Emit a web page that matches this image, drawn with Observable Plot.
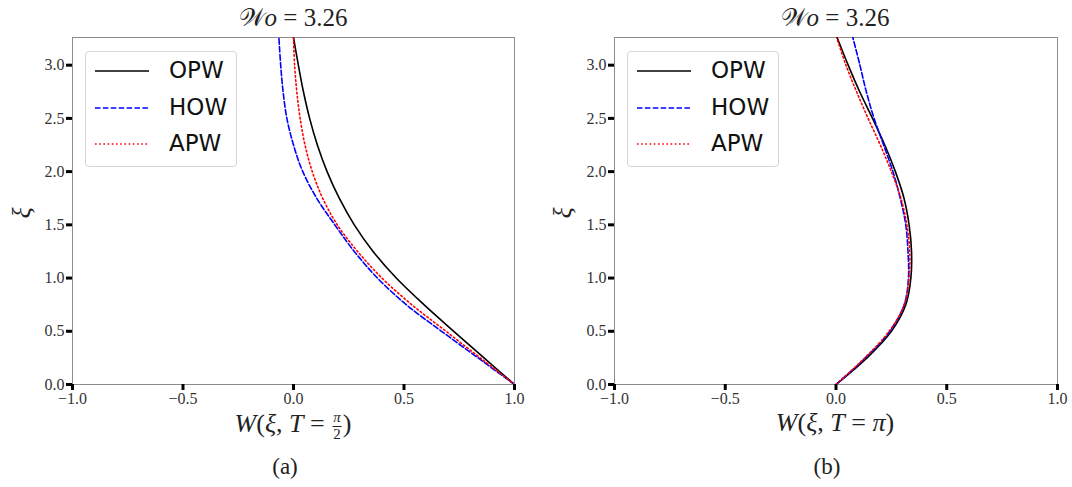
<!DOCTYPE html>
<html><head><meta charset="utf-8">
<script src="https://cdn.jsdelivr.net/npm/d3@7"></script>
<script src="https://cdn.jsdelivr.net/npm/@observablehq/plot@0.6"></script>
<style>
body{margin:0;background:#fff;}
#root{position:relative;width:1072px;height:487px;overflow:hidden;font-family:"Liberation Serif",serif;color:#222;background:#fff;}
.panel{position:absolute;top:0;}
.panel svg{overflow:visible;}
.title{position:absolute;top:4px;font-size:25px;transform:translateX(-50%);white-space:nowrap;}
.xlab{position:absolute;top:410px;font-size:26px;transform:translateX(-50%);white-space:nowrap;line-height:1;}
.cap{position:absolute;top:454px;font-size:23px;transform:translateX(-50%);white-space:nowrap;}
.ylab{position:absolute;top:213px;font-size:26px;font-style:italic;transform:translate(-50%,-50%) rotate(-90deg);}
.frac{display:inline-block;vertical-align:middle;text-align:center;font-size:15px;line-height:1.05;margin:0 1px;}
.frac .n{display:block;border-bottom:1px solid #222;padding:0 1px;font-style:italic;}
.frac .d{display:block;}
.legend{position:absolute;border:1px solid #d6d6d6;border-radius:4px;background:rgba(255,255,255,0.8);font-family:"DejaVu Sans",sans-serif;font-size:23px;color:#111;}
.legend .row{position:absolute;left:0;height:24px;}
.legend svg{position:absolute;left:9px;top:0;}
.legend .t{position:absolute;left:83px;top:-1px;line-height:24px;}
</style></head><body><div id="root"></div><script>
// ξ sample positions (shared by all series)
const xi = [0, 0.25, 0.5, 0.75, 1.0, 1.25, 1.5, 1.75, 2.0, 2.25, 2.5, 2.75, 3.0, 3.26];
// Panel (a): W(ξ, T = π/2)
const opwA = [1.0, 0.862, 0.725, 0.59, 0.465, 0.36, 0.275, 0.207, 0.152, 0.108, 0.073, 0.045, 0.022, 0.0];
const howA = [1.0, 0.835, 0.67, 0.51, 0.38, 0.275, 0.187, 0.105, 0.042, 0.0, -0.03, -0.047, -0.058, -0.066];
const apwA = [1.0, 0.845, 0.69, 0.535, 0.40, 0.29, 0.198, 0.132, 0.085, 0.052, 0.03, 0.015, 0.005, 0.0];
// Panel (b): W(ξ, T = π)
const opwB = [0, 0.14, 0.25, 0.315, 0.338, 0.341, 0.33, 0.307, 0.268, 0.22, 0.165, 0.107, 0.055, 0.005];
const howB = [0, 0.132, 0.243, 0.308, 0.327, 0.325, 0.315, 0.29, 0.257, 0.215, 0.172, 0.137, 0.108, 0.076];
const apwB = [0, 0.13, 0.24, 0.308, 0.33, 0.333, 0.32, 0.293, 0.25, 0.2, 0.145, 0.093, 0.045, 0.003];
const seriesNames = ["OPW", "HOW", "APW"];
const seriesColors = ["black", "blue", "red"];
const seriesDash = [null, "5.5,2.4", "1.6,2.6"];
const xTicks = [-1, -0.5, 0, 0.5, 1];
const yTicks = [0, 0.5, 1.0, 1.5, 2.0, 2.5, 3.0];
const titleHTML = "𝒲<i>o</i> = 3.26";

const root = document.getElementById("root");

function makePanel(series, left, width, mL, mR) {
  const rows = xi.map((v, i) => ({xi: v, OPW: series[0][i], HOW: series[1][i], APW: series[2][i]}));
  const lines = seriesNames.map((name, k) => Plot.line(rows, {
    x: name, y: "xi", stroke: seriesColors[k], strokeWidth: 1.6,
    strokeDasharray: seriesDash[k] || undefined, curve: "catmull-rom", clip: true
  }));
  const plot = Plot.plot({
    width, height: 420, marginLeft: mL, marginRight: mR, marginTop: 37, marginBottom: 36,
    x: {domain: [-1, 1]}, y: {domain: [0, 3.26]},
    style: {fontFamily: "'Liberation Serif', serif", fontSize: "16px", color: "#333", background: "transparent", overflow: "visible"},
    marks: [
      Plot.frame({stroke: "#8c8c8c", strokeWidth: 1}),
      ...lines,
      Plot.axisX({ticks: xTicks, tickFormat: d3.format(".1f"), tickSize: 6, tickPadding: 2, stroke: "black", strokeWidth: 3, fill: "#333", label: null}),
      Plot.axisY({ticks: yTicks, tickFormat: d3.format(".1f"), tickSize: 6, tickPadding: 2, stroke: "black", strokeWidth: 3, fill: "#333", label: null})
    ]
  });
  const div = document.createElement("div");
  div.className = "panel";
  div.style.left = left + "px";
  div.appendChild(plot);
  root.appendChild(div);
}

function addLegend(left, top) {
  const lg = document.createElement("div");
  lg.className = "legend";
  lg.style.left = left + "px"; lg.style.top = top + "px";
  lg.style.width = "150px"; lg.style.height = "114px";
  seriesNames.forEach((name, k) => {
    const row = document.createElement("div");
    row.className = "row";
    row.style.top = (7 + k * 36.5) + "px";
    row.style.width = "150px";
    const dash = seriesDash[k] ? `stroke-dasharray="${seriesDash[k]}"` : "";
    row.innerHTML = `<svg width="56" height="24"><line x1="0" x2="54" y1="12" y2="12" stroke="${seriesColors[k]}" stroke-width="1.6" ${dash}/></svg><span class="t">${name}</span>`;
    lg.appendChild(row);
  });
  root.appendChild(lg);
}

function addText(cls, x, html) {
  const el = document.createElement("div");
  el.className = cls;
  el.style.left = x + "px";
  el.innerHTML = html;
  root.appendChild(el);
}

makePanel([opwA, howA, apwA], 0, 540, 72, 26);
makePanel([opwB, howB, apwB], 540, 532, 74, 15);
addLegend(85, 51);
addLegend(627, 51);
addText("title", 293, titleHTML);
addText("title", 835, titleHTML);
addText("xlab", 293, `<i>W</i>(<i>ξ</i>, <i>T</i> = <span class="frac"><span class="n">π</span><span class="d">2</span></span>)`);
addText("xlab", 835, `<i>W</i>(<i>ξ</i>, <i>T</i> = <i>π</i>)`);
addText("cap", 285, "(a)");
addText("cap", 827, "(b)");
addText("ylab", 22, "ξ");
addText("ylab", 563, "ξ");
</script></body></html>
